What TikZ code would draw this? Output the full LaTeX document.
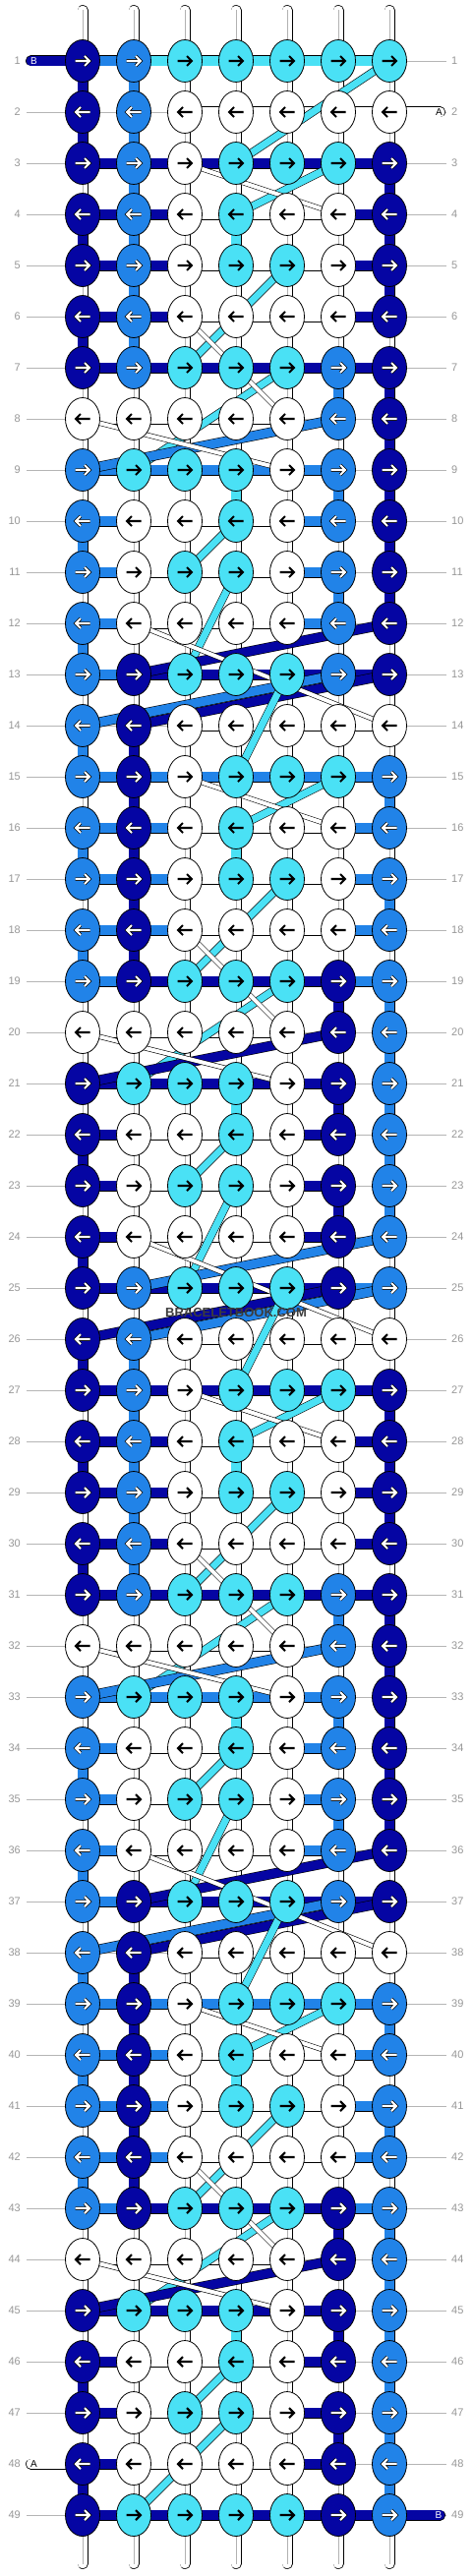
\documentclass[tikz,border=0pt]{standalone}
\usepackage{fontspec}
\setmainfont{Liberation Sans}
\usepackage{tikz}
\usetikzlibrary{shapes.geometric}

\definecolor{kD}{RGB}{5,5,163}
\definecolor{kB}{RGB}{33,131,232}
\definecolor{kC}{RGB}{74,225,245}
\definecolor{kW}{RGB}{255,255,255}
\definecolor{numgray}{RGB}{150,150,150}
\definecolor{wmgray}{RGB}{60,60,60}

% rows of the pattern, rows 26-48 repeat rows 2-24
\newcommand\setrow[3]{\expandafter\def\csname #1#2\endcsname{#3}}
% knots
\setrow{kn}{1}{D,B,C,C,C,C,C}
\setrow{kn}{2}{D,B,W,W,W,W,W}
\setrow{kn}{3}{D,B,W,C,C,C,D}
\setrow{kn}{4}{D,B,W,C,W,W,D}
\setrow{kn}{5}{D,B,W,C,C,W,D}
\setrow{kn}{6}{D,B,W,W,W,W,D}
\setrow{kn}{7}{D,B,C,C,C,B,D}
\setrow{kn}{8}{W,W,W,W,W,B,D}
\setrow{kn}{9}{B,C,C,C,W,B,D}
\setrow{kn}{10}{B,W,W,C,W,B,D}
\setrow{kn}{11}{B,W,C,C,W,B,D}
\setrow{kn}{12}{B,W,W,W,W,B,D}
\setrow{kn}{13}{B,D,C,C,C,B,D}
\setrow{kn}{14}{B,D,W,W,W,W,W}
\setrow{kn}{15}{B,D,W,C,C,C,B}
\setrow{kn}{16}{B,D,W,C,W,W,B}
\setrow{kn}{17}{B,D,W,C,C,W,B}
\setrow{kn}{18}{B,D,W,W,W,W,B}
\setrow{kn}{19}{B,D,C,C,C,D,B}
\setrow{kn}{20}{W,W,W,W,W,D,B}
\setrow{kn}{21}{D,C,C,C,W,D,B}
\setrow{kn}{22}{D,W,W,C,W,D,B}
\setrow{kn}{23}{D,W,C,C,W,D,B}
\setrow{kn}{24}{D,W,W,W,W,D,B}
\setrow{kn}{25}{D,B,C,C,C,D,B}
\setrow{kn}{49}{D,C,C,C,C,D,B}
% strings between knots in a row (N = none)
\setrow{hs}{1}{B,C,C,C,C,C}
\setrow{hs}{2}{N,N,W,W,W,W}
\setrow{hs}{3}{D,D,D,D,D,D}
\setrow{hs}{4}{D,D,W,W,W,D}
\setrow{hs}{5}{D,D,W,W,W,D}
\setrow{hs}{6}{D,D,W,W,W,D}
\setrow{hs}{7}{D,D,D,D,D,D}
\setrow{hs}{8}{W,W,W,W,N,N}
\setrow{hs}{9}{B,B,B,B,B,N}
\setrow{hs}{10}{B,W,W,W,B,N}
\setrow{hs}{11}{B,W,W,W,B,N}
\setrow{hs}{12}{B,W,W,W,B,N}
\setrow{hs}{13}{B,D,D,D,D,D}
\setrow{hs}{14}{N,N,W,W,W,W}
\setrow{hs}{15}{B,B,B,B,B,B}
\setrow{hs}{16}{B,B,W,W,W,B}
\setrow{hs}{17}{B,B,W,W,W,B}
\setrow{hs}{18}{B,B,W,W,W,B}
\setrow{hs}{19}{B,D,D,D,D,B}
\setrow{hs}{20}{W,W,W,W,N,N}
\setrow{hs}{21}{D,D,D,D,D,N}
\setrow{hs}{22}{D,W,W,W,D,N}
\setrow{hs}{23}{D,W,W,W,D,N}
\setrow{hs}{24}{D,W,W,W,D,N}
\setrow{hs}{25}{D,D,D,D,D,B}
\setrow{hs}{49}{D,D,D,D,D,D}
% strings from a row down to the next one
\setrow{vs}{1}{D,B,W,W,W,W,W}
\setrow{vs}{2}{D,B,W,W,W,W,W}
\setrow{vs}{3}{W,B,W,W,W,W,D}
\setrow{vs}{4}{D,B,W,C,W,W,D}
\setrow{vs}{5}{W,B,W,W,W,W,D}
\setrow{vs}{6}{D,B,W,W,W,W,W}
\setrow{vs}{7}{W,W,W,W,W,B,D}
\setrow{vs}{8}{W,W,W,W,W,W,D}
\setrow{vs}{9}{W,W,W,C,W,B,D}
\setrow{vs}{10}{B,W,W,W,W,W,D}
\setrow{vs}{11}{W,W,W,W,W,B,D}
\setrow{vs}{12}{B,W,W,W,W,W,W}
\setrow{vs}{13}{W,W,W,W,W,W,W}
\setrow{vs}{14}{B,D,W,W,W,W,W}
\setrow{vs}{15}{W,D,W,W,W,W,B}
\setrow{vs}{16}{B,D,W,C,W,W,W}
\setrow{vs}{17}{W,D,W,W,W,W,B}
\setrow{vs}{18}{B,D,W,W,W,W,W}
\setrow{vs}{19}{W,W,W,W,W,D,B}
\setrow{vs}{20}{W,W,W,W,W,W,B}
\setrow{vs}{21}{W,W,W,C,W,D,B}
\setrow{vs}{22}{D,W,W,W,W,W,B}
\setrow{vs}{23}{W,W,W,W,W,D,B}
\setrow{vs}{24}{D,W,W,W,W,W,W}
\setrow{vs}{25}{W,W,W,W,W,W,W}
\setrow{vs}{48}{D,W,W,W,W,W,B}

\begin{document}
\begin{tikzpicture}[x=1pt, y=-1pt,
    knot/.style={ellipse, draw=black, line width=0.8, minimum width=35, minimum height=43, inner sep=0},
    seg/.style={draw=black, line width=0.7, double=k#1, double distance=9.6},
    core/.style={draw=black!30, line width=0.8},
    band/.style 2 args={draw=black, line width=0.6, double=k#1, double distance=#2},
    thin/.style={draw=black, line width=0.6, double=white, double distance=4},
    arrline/.style={line width=2.1},
    rownum/.style={text=numgray, inner sep=0, font=\fontsize{11}{13}\selectfont},
    rowline/.style={draw=numgray!70, line width=0.8},
    stubtext/.style={inner sep=0, font=\fontsize{10}{12}\selectfont},
    watermark/.style={text=wmgray, font=\bfseries\fontsize{13}{15}\selectfont}]
  \useasboundingbox (0,0) rectangle (480,2620);

  % knot places
  \foreach \row in {1,...,49}
    \foreach \col in {1,...,7}
      \coordinate (p-\row-\col) at ({84+52*(\col-1)},{62+52*(\row-1)});
  \foreach \col in {1,...,7}{
    \coordinate (t-\col) at ({84+52*(\col-1)},10.5);
    \coordinate (b-\col) at ({84+52*(\col-1)},2607.5);
  }
  \coordinate (sb1) at (31.5,62);
  \coordinate (sa1) at (447.5,114);
  \coordinate (sa2) at (31.5,2506);
  \coordinate (sb2) at (447.5,2558);

  % row numbers
  \foreach \row in {1,...,49}{
    \node[rownum, anchor=east] (nl-\row) at (21,{62+52*(\row-1)}) {\row};
    \node[rownum, anchor=west] (nr-\row) at (459,{62+52*(\row-1)}) {\row};
    \draw[rowline] ([xshift=6]nl-\row.east) -- ([xshift=-5]nr-\row.west);
  }

  % loose ends
  \foreach \col in {1,...,7}{
    \draw[seg=W, line cap=round] (t-\col) -- (p-1-\col);
    \draw[core] (t-\col) -- (p-1-\col);
    \draw[seg=W, line cap=round] (b-\col) -- (p-49-\col);
    \draw[core] (b-\col) -- (p-49-\col);
  }
  \draw[seg=D, line cap=round] (sb1) -- (p-1-1);
  \draw[seg=W, line cap=round] (sa1) -- (p-2-7);
  \draw[seg=W, line cap=round] (sa2) -- (p-48-1);
  \draw[seg=D, line cap=round] (sb2) -- (p-49-7);
  \node[stubtext, text=white] (lb1) at (34.5,62) {B};
  \node[stubtext] (la1) at (446.5,114) {A};
  \node[stubtext] (la2) at (34.5,2506) {A};
  \node[stubtext, text=white] (lb2) at (446,2558) {B};

  % strings down
  \foreach \row in {1,...,48}{
    \pgfmathtruncatemacro\srow{(\row>25)*(\row<48)*(-24)+\row}
    \pgfmathtruncatemacro\nxt{\row+1}
    \expandafter\let\expandafter\segs\csname vs\srow\endcsname
    \foreach \kc [count=\col] in \segs {
      \draw[seg=\kc] (p-\row-\col) -- (p-\nxt-\col);
      \if\kc W\draw[core] (p-\row-\col) -- (p-\nxt-\col);\fi
    }
  }

  % strings across
  \foreach \row in {1,...,49}{
    \pgfmathtruncatemacro\srow{(\row>25)*(\row<49)*(-24)+\row}
    \expandafter\let\expandafter\segs\csname hs\srow\endcsname
    \foreach \kc [count=\col] in \segs {
      \pgfmathtruncatemacro\nxt{\col+1}
      \if\kc N\else\draw[seg=\kc] (p-\row-\col) -- (p-\row-\nxt);\fi
    }
  }

  % strings changing place
  \foreach \o in {0,24}{
    \foreach \kc/\w/\ca/\ra/\cb/\rb in {C/7/6/3/4/4, C/7/5/5/3/7, C/7/5/7/2/9, B/9/6/8/1/9,
        C/7/4/10/3/11, C/7/4/11/3/13, D/9/7/12/2/13, D/9/7/13/2/14, B/9/6/13/1/14,
        C/7/5/13/4/15, C/7/6/15/4/16, C/7/5/17/3/19, C/7/5/19/2/21, D/9/6/20/1/21,
        C/7/4/22/3/23}{
      \pgfmathtruncatemacro\rra{\ra+\o}
      \pgfmathtruncatemacro\rrb{\rb+\o}
      \draw[band={\kc}{\w}] (p-\rra-\ca) -- (p-\rrb-\cb);
    }
    \foreach \ca/\ra/\cb/\rb in {3/3/6/4, 3/6/5/8, 1/8/5/9, 2/12/7/14, 3/15/6/16,
        3/18/5/20, 1/20/5/21}{
      \pgfmathtruncatemacro\rra{\ra+\o}
      \pgfmathtruncatemacro\rrb{\rb+\o}
      \draw[thin] (p-\rra-\ca) -- (p-\rrb-\cb);
    }
  }
  \foreach \kc/\w/\ca/\ra/\cb/\rb in {C/7/7/1/4/3, C/7/4/23/3/25, B/9/7/24/2/25,
      D/9/6/25/1/26, B/9/7/25/2/26, C/7/5/25/4/27, C/7/4/47/3/48, C/7/3/48/2/49}
    \draw[band={\kc}{\w}] (p-\ra-\ca) -- (p-\rb-\cb);
  \draw[thin] (p-24-2) -- (p-26-7);

  % knots
  \foreach \row in {1,...,49}{
    \pgfmathtruncatemacro\srow{(\row>25)*(\row<49)*(-24)+\row}
    \pgfmathtruncatemacro\dir{2*mod(\row,2)-1}
    \expandafter\let\expandafter\knots\csname kn\srow\endcsname
    \foreach \kc [count=\col] in \knots {
      \node[knot, fill=k\kc] (k-\row-\col) at (p-\row-\col) {};
      \def\ac{black}\def\ao{none}
      \if\kc D\def\ac{white}\def\ao{black}\fi
      \if\kc B\def\ac{white}\def\ao{black}\fi
      \begin{scope}[shift={(k-\row-\col.center)}, xscale=\dir]
        \draw[arrline, draw=\ao, line width=3.5] (-7.5,0) -- (7,0) (2,-5) -- (7,0) -- (2,5);
        \draw[arrline, draw=\ac] (-7.5,0) -- (7,0) (2,-5) -- (7,0) -- (2,5);
      \end{scope}
    }
  }

  \node[watermark] (wm) at (240,1335) {BRACELETBOOK.COM};
\end{tikzpicture}
\end{document}
